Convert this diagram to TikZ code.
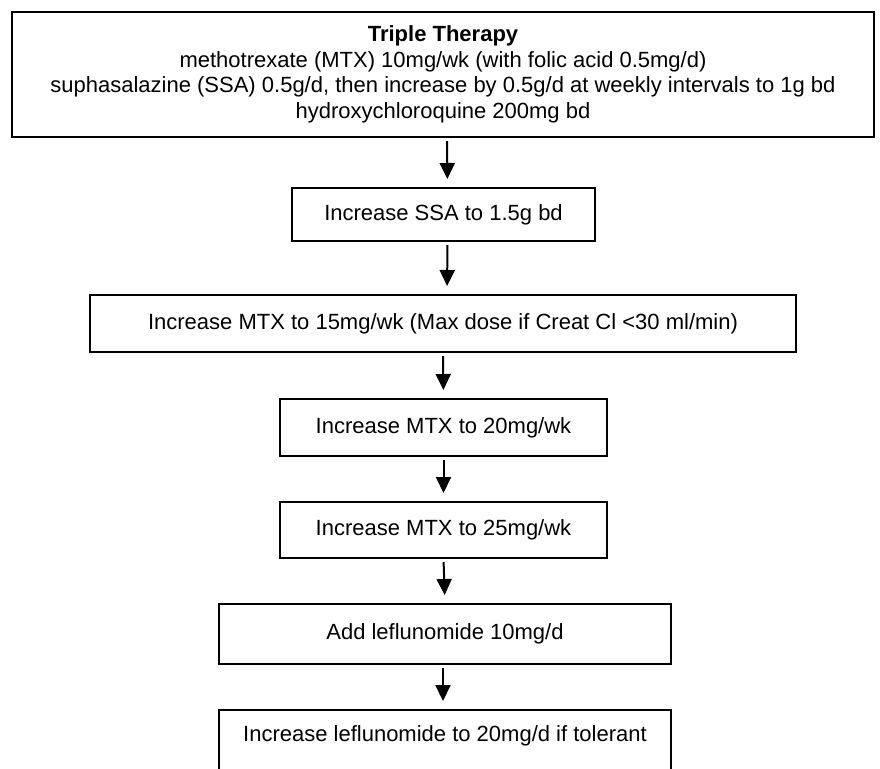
\documentclass[tikz,border=0pt]{standalone}
\usepackage{fontspec}
\setmainfont{Liberation Sans}
\usetikzlibrary{arrows.meta}
\begin{document}
\begin{tikzpicture}[x=0.5pt,y=-0.5pt,
  box/.style={draw=black,line width=1pt,align=center,inner sep=0pt,
    font=\fontsize{11}{12.75}\selectfont},
  flow/.style={line width=1pt,-{Triangle[width=7.5pt,length=8pt]},
    shorten <=1.5pt,shorten >=4pt}]
\useasboundingbox (0,0) rectangle (880,768);
\clip (0,0) rectangle (880,768);
\node[box,minimum width=431pt,minimum height=62.5pt] (b1) at (443,74.5)
  {\textbf{Triple Therapy}\\
   methotrexate (MTX) 10mg/wk (with folic acid 0.5mg/d)\\
   suphasalazine (SSA) 0.5g/d, then increase by 0.5g/d at weekly intervals to 1g bd\\
   hydroxychloroquine 200mg bd};
\node[box,minimum width=151.5pt,minimum height=26.5pt] (b2) at (443.5,214.5)
  {Increase SSA to 1.5g bd};
\node[box,minimum width=353pt,minimum height=28.5pt] (b3) at (443,323.5)
  {Increase MTX to 15mg/wk (Max dose if Creat Cl {<}30 ml/min)};
\node[box,minimum width=163.5pt,minimum height=28.5pt] (b4) at (443.5,427.5)
  {Increase MTX to 20mg/wk};
\node[box,minimum width=163.5pt,minimum height=28pt] (b5) at (443.5,530)
  {Increase MTX to 25mg/wk};
\node[box,minimum width=226pt,minimum height=30pt] (b6) at (445,634)
  {Add leflunomide 10mg/d};
\node[box,minimum width=226pt,text height=8pt,text depth=40pt,inner ysep=7.5pt,
  anchor=north] (b7) at (445,709)
  {Increase leflunomide to 20mg/d if tolerant};
\draw[flow] ([xshift=2pt]b1.south) -- ([xshift=2pt]b2.north);
\draw[flow] ([xshift=2pt]b2.south) -- ([xshift=2pt]b3.north);
\draw[flow] (b3.south) -- (b4.north);
\draw[flow] (b4.south) -- (b5.north);
\draw[flow] (b5.south) -- (b6.north);
\draw[flow] ([xshift=-1pt]b6.south) -- ([xshift=-1pt]b7.north);
\end{tikzpicture}
\end{document}
